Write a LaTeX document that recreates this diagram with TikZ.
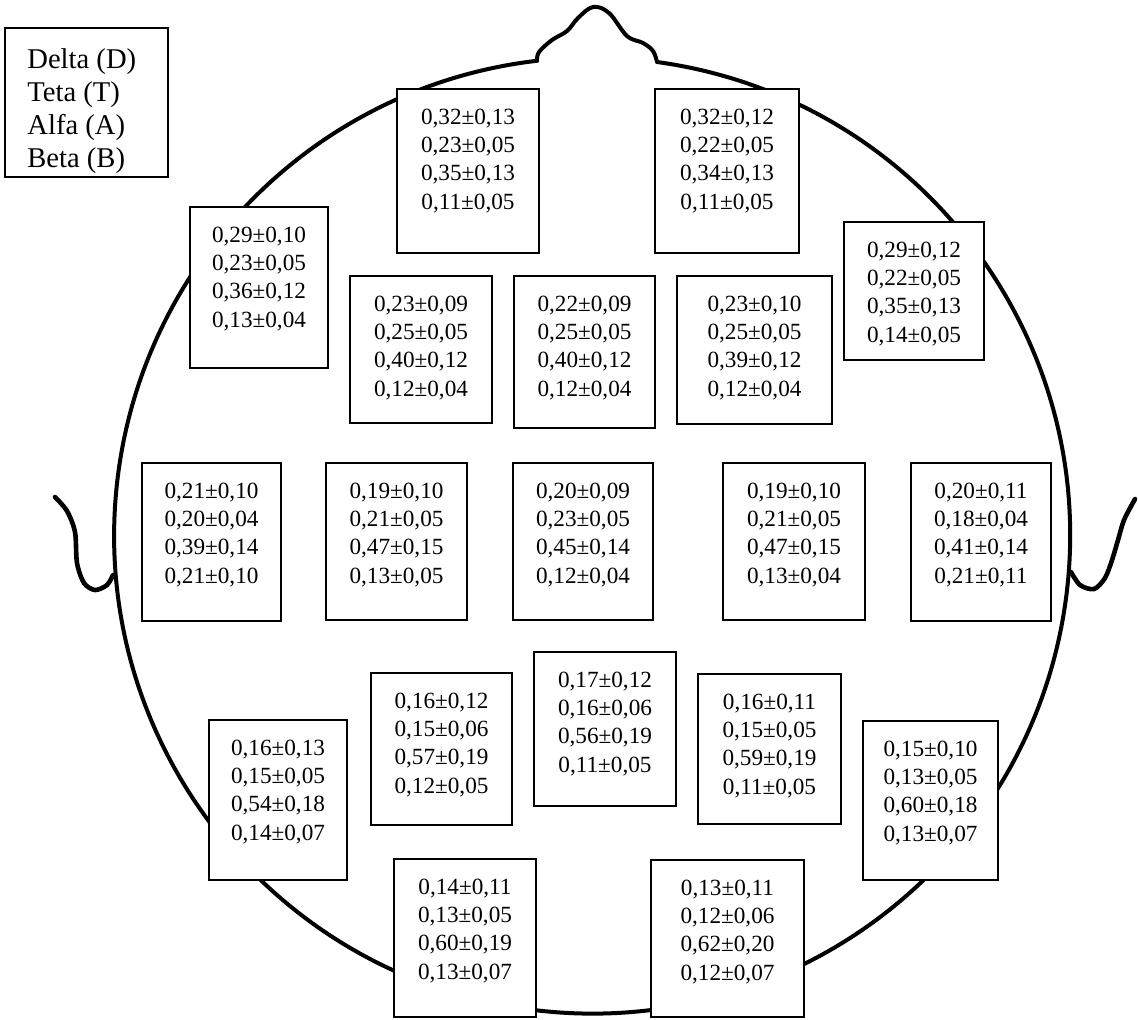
\documentclass[tikz,border=0pt]{standalone}
\usepackage{fontspec}
\setmainfont{Liberation Serif}
\usetikzlibrary{positioning,fit}

\begin{document}
\begin{tikzpicture}[x=0.5pt, y=-0.5pt,
    head/.style={line width=2pt, line join=round, line cap=round},
    ear/.style={line width=2.3pt, line cap=round},
    elec/.style={draw, fill=white, line width=0.75pt, inner sep=0pt},
    vals/.style={align=center, inner sep=0pt, font=\fontsize{11.6}{14.2}\selectfont},
    node distance=10pt]
    \useasboundingbox (0,0) rectangle (1138,1019);
    % head and nose
    \draw[head] (657,62) arc[start angle=-82.2, end angle=263.4, radius=478]
        -- plot[smooth, tension=0.6] coordinates {(537,61) (539,52) (552,40) (567,31) (578,18) (593,7) (609,13) (627,36) (643,43) (653,51) (657,62)};
    % ears
    \draw[ear] plot[smooth] coordinates {(113,575) (107,585) (95,590) (84,583) (77,563) (75,532) (67,511) (55,497)};
    \draw[ear] plot[smooth] coordinates {(1071,572) (1080,585) (1094,589) (1105,578) (1112,560) (1118,540) (1124,520) (1135,499)};
    % legend
    \node[elec, fit={(5,28) (168,177)}] (legend) {};
    \node[anchor=north west, align=left, inner sep=0pt, font=\fontsize{14.3}{16.5}\selectfont] (bands) at (27,48) {Delta (D)\\Teta (T)\\Alfa (A)\\Beta (B)};
    % electrodes
    \node[elec, fit={(397,89) (539,253)}] (Fp1) {};
    \node[vals, below=of Fp1.north] (Fp1v) {0,32±0,13\\0,23±0,05\\0,35±0,13\\0,11±0,05};
    \node[elec, fit={(655,89) (799,253)}] (Fp2) {};
    \node[vals, below=of Fp2.north] (Fp2v) {0,32±0,12\\0,22±0,05\\0,34±0,13\\0,11±0,05};
    \node[elec, fit={(190,207) (328,368)}] (F7) {};
    \node[vals, below=of F7.north] (F7v) {0,29±0,10\\0,23±0,05\\0,36±0,12\\0,13±0,04};
    \node[elec, fit={(350,276) (492,423)}] (F3) {};
    \node[vals, below=of F3.north] (F3v) {0,23±0,09\\0,25±0,05\\0,40±0,12\\0,12±0,04};
    \node[elec, fit={(514,276) (655,428)}] (Fz) {};
    \node[vals, below=of Fz.north] (Fzv) {0,22±0,09\\0,25±0,05\\0,40±0,12\\0,12±0,04};
    \node[elec, fit={(677,276) (832,424)}] (F4) {};
    \node[vals, below=of F4.north] (F4v) {0,23±0,10\\0,25±0,05\\0,39±0,12\\0,12±0,04};
    \node[elec, fit={(844,222) (984,360)}] (F8) {};
    \node[vals, below=of F8.north] (F8v) {0,29±0,12\\0,22±0,05\\0,35±0,13\\0,14±0,05};
    \node[elec, fit={(142,463) (281,621)}] (T3) {};
    \node[vals, below=of T3.north] (T3v) {0,21±0,10\\0,20±0,04\\0,39±0,14\\0,21±0,10};
    \node[elec, fit={(326,463) (467,620)}] (C3) {};
    \node[vals, below=of C3.north] (C3v) {0,19±0,10\\0,21±0,05\\0,47±0,15\\0,13±0,05};
    \node[elec, fit={(513,463) (653,620)}] (Cz) {};
    \node[vals, below=of Cz.north] (Czv) {0,20±0,09\\0,23±0,05\\0,45±0,14\\0,12±0,04};
    \node[elec, fit={(723,463) (865,620)}] (C4) {};
    \node[vals, below=of C4.north] (C4v) {0,19±0,10\\0,21±0,05\\0,47±0,15\\0,13±0,04};
    \node[elec, fit={(911,463) (1051,621)}] (T4) {};
    \node[vals, below=of T4.north] (T4v) {0,20±0,11\\0,18±0,04\\0,41±0,14\\0,21±0,11};
    \node[elec, fit={(371,673) (512,825)}] (P3) {};
    \node[vals, below=of P3.north] (P3v) {0,16±0,12\\0,15±0,06\\0,57±0,19\\0,12±0,05};
    \node[elec, fit={(534,652) (676,806)}] (Pz) {};
    \node[vals, below=of Pz.north] (Pzv) {0,17±0,12\\0,16±0,06\\0,56±0,19\\0,11±0,05};
    \node[elec, fit={(698,674) (841,824)}] (P4) {};
    \node[vals, below=of P4.north] (P4v) {0,16±0,11\\0,15±0,05\\0,59±0,19\\0,11±0,05};
    \node[elec, fit={(209,720) (347,880)}] (T5) {};
    \node[vals, below=of T5.north] (T5v) {0,16±0,13\\0,15±0,05\\0,54±0,18\\0,14±0,07};
    \node[elec, fit={(863,721) (998,880)}] (T6) {};
    \node[vals, below=of T6.north] (T6v) {0,15±0,10\\0,13±0,05\\0,60±0,18\\0,13±0,07};
    \node[elec, fit={(394,859) (536,1017)}] (O1) {};
    \node[vals, below=of O1.north] (O1v) {0,14±0,11\\0,13±0,05\\0,60±0,19\\0,13±0,07};
    \node[elec, fit={(651,860) (804,1017)}] (O2) {};
    \node[vals, below=of O2.north] (O2v) {0,13±0,11\\0,12±0,06\\0,62±0,20\\0,12±0,07};
\end{tikzpicture}
\end{document}
